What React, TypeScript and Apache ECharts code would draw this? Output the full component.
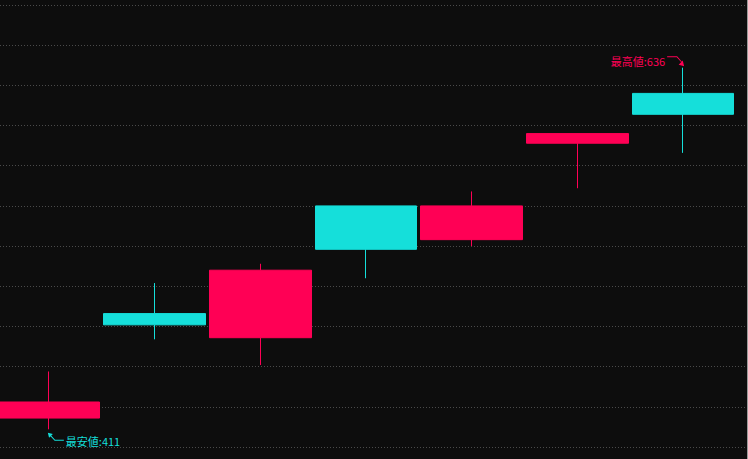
import React, { useEffect, useRef } from "react";
import * as echarts from "echarts";

const categories = ["1", "2", "3", "4", "5", "6", "7"];
const opens = [418, 483, 468, 550, 529, 589, 620];
const closes = [428, 476, 510, 523, 550, 595, 607];
const lows = [411, 467, 451, 505, 525, 561, 583];
const highs = [447, 502, 514, 550, 559, 595, 636];

const yMin = 400;
const yMax = 675;
const yStep = 25;

const UP = "#ff0055";
const DOWN = "#15dfda";

const maxArrow =
  "path://M0 0 L10 0 L14.6 5.2 L13.9 5.9 L9.6 1 L0 1 Z M17 10 L11.5 8.6 L15.6 4.4 Z";
const minArrow =
  "path://M0 0 L5 1.2 L1.2 5 Z M2.6 1.9 L7.2 7 L16 7 L16 8 L6.8 8 L1.9 2.6 Z";

export default function App() {
  const ref = useRef<HTMLDivElement>(null);
  useEffect(() => {
    if (!ref.current) return;
    const chart = echarts.init(ref.current, null, { renderer: "svg" });
    const data = categories.map((_, i) => [opens[i], closes[i], lows[i], highs[i]]);
    const font = "'Noto Sans CJK JP', sans-serif";
    chart.setOption({
      animation: false,
      backgroundColor: "#0d0d0d",
      grid: [
        { left: 0, right: 12, top: 5, bottom: 12 },
        { left: 4, right: 3, top: 5, bottom: 12 },
      ],
      xAxis: [
        {
          type: "category",
          data: categories,
          gridIndex: 0,
          show: false,
          boundaryGap: true,
        },
        { type: "value", gridIndex: 1, min: 0, max: 1, show: false },
      ],
      yAxis: [
        {
          type: "value",
          gridIndex: 0,
          min: yMin,
          max: yMax,
          interval: yStep,
          show: false,
          splitLine: { show: false },
        },
        {
          type: "value",
          gridIndex: 1,
          min: yMin,
          max: yMax,
          interval: yStep,
          axisLine: { show: false },
          axisTick: { show: false },
          axisLabel: { show: false },
          splitLine: {
            show: true,
            lineStyle: { type: [1, 2], color: "#4a4a4a", width: 1 },
          },
        },
      ],
      graphic: [
        {
          type: "rect",
          shape: { x: 751, y: 0, width: 1, height: 459 },
          style: { fill: "#9a9a9a" },
          silent: true,
        },
      ],
      series: [
        {
          type: "candlestick",
          xAxisIndex: 0,
          yAxisIndex: 0,
          data,
          barWidth: 102,
          itemStyle: {
            color: UP,
            color0: DOWN,
            borderColor: UP,
            borderColor0: DOWN,
            borderWidth: 1,
          },
          markPoint: {
            silent: true,
            data: [
              {
                type: "max",
                valueDim: "highest",
                symbol: maxArrow,
                symbolSize: [17, 10],
                symbolOffset: [-7.5, -6.5],
                itemStyle: { color: UP },
                label: {
                  show: true,
                  position: "left",
                  distance: 2,
                  color: UP,
                  fontSize: 11,
                  fontFamily: font,
                  formatter: "最高値:{c}",
                },
              },
              {
                type: "min",
                valueDim: "lowest",
                symbol: minArrow,
                symbolSize: [16, 8],
                symbolOffset: [7, 7.5],
                itemStyle: { color: DOWN },
                label: {
                  show: true,
                  position: "right",
                  distance: 2,
                  offset: [0, 4],
                  color: DOWN,
                  fontSize: 11,
                  fontFamily: font,
                  formatter: "最安値:{c}",
                },
              },
            ],
          },
        },
      ],
    });
    return () => chart.dispose();
  }, []);
  return (
    <div
      ref={ref}
      style={{ position: "fixed", left: -4, top: 0, width: 752, height: 459 }}
    />
  );
}
